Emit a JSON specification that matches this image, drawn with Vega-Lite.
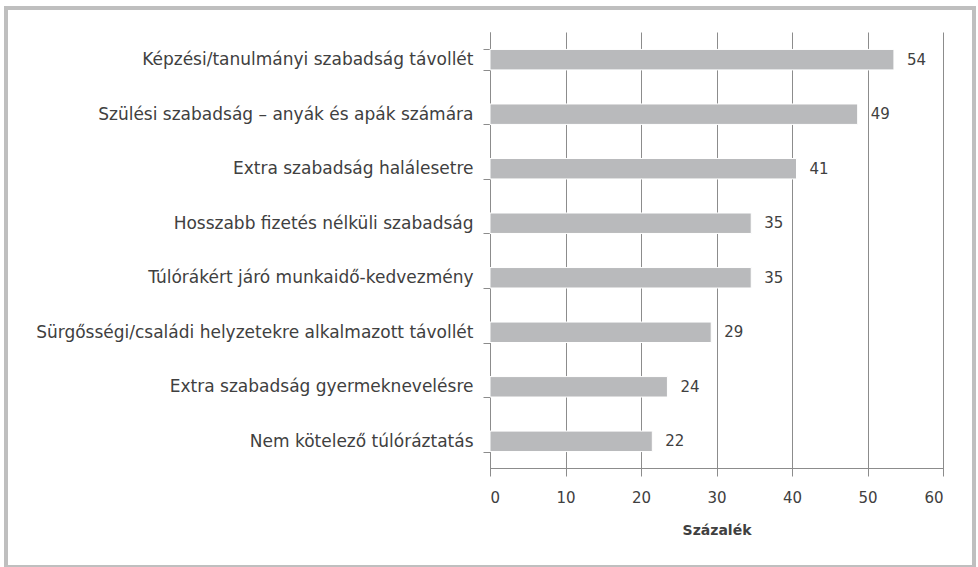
{
  "$schema": "https://vega.github.io/schema/vega-lite/v6.json",
  "width": 968,
  "height": 559,
  "autosize": {"type": "none"},
  "padding": {"left": 6, "top": 8, "right": 4, "bottom": 0},
  "background": "white",
  "config": {
    "view": {"stroke": "#bfbfbf", "strokeWidth": 4},
    "font": "DejaVu Sans"
  },
  "data": {
    "values": [
      {"category": "Képzési/tanulmányi szabadság távollét", "value": 53.5},
      {"category": "Szülési szabadság – anyák és apák számára", "value": 48.7},
      {"category": "Extra szabadság halálesetre\u00a0", "value": 40.6},
      {"category": "Hosszabb fizetés nélküli szabadság", "value": 34.6},
      {"category": "Túlórákért járó munkaidő-kedvezmény", "value": 34.6},
      {"category": "Sürgősségi/családi helyzetekre alkalmazott távollét\u00a0", "value": 29.3},
      {"category": "Extra szabadság gyermeknevelésre", "value": 23.5},
      {"category": "Nem kötelező túlóráztatás", "value": 21.5}
    ]
  },
  "encoding": {
    "y": {
      "field": "category",
      "type": "nominal",
      "sort": null,
      "scale": {"range": [24, 461], "paddingInner": 0.625, "paddingOuter": 0.32},
      "axis": {
        "title": null,
        "offset": -484,
        "grid": false,
        "domainColor": "#8c8c8c",
        "tickColor": "#8c8c8c",
        "tickBand": "extent",
        "tickSize": 7,
        "labelFontSize": 17,
        "labelColor": "#404040",
        "labelPadding": 10,
        "labelLimit": 600
      }
    }
  },
  "layer": [
    {
      "mark": {"type": "bar", "color": "#b9babc", "stroke": "white", "strokeWidth": 1},
      "encoding": {
        "x": {
          "field": "value",
          "type": "quantitative",
          "scale": {"domain": [0, 60], "range": [484, 937]},
          "axis": {
            "title": "Százalék",
            "orient": "bottom",
            "offset": -99,
            "values": [0, 10, 20, 30, 40, 50, 60],
            "grid": false,
            "domainColor": "#8c8c8c",
            "tickColor": "#8c8c8c",
            "tickSize": 8,
            "labelFontSize": 15,
            "labelColor": "#404040",
            "labelPadding": 14,
            "titleFontSize": 14,
            "titleFontWeight": "bold",
            "titleColor": "#404040",
            "titlePadding": 18
          }
        }
      }
    },
    {
      "mark": {"type": "text", "align": "left", "dx": 13, "fontSize": 15, "color": "#404040"},
      "encoding": {
        "x": {
          "field": "value",
          "type": "quantitative",
          "axis": {
            "orient": "top",
            "values": [0, 10, 20, 30, 40, 50, 60],
            "grid": true,
            "gridColor": "#8c8c8c",
            "gridOpacity": 1,
            "domain": false,
            "ticks": false,
            "labels": false,
            "title": null
          }
        },
        "text": {"field": "value", "type": "quantitative", "format": ".0f"}
      }
    }
  ],
  "resolve": {"axis": {"x": "independent"}}
}
